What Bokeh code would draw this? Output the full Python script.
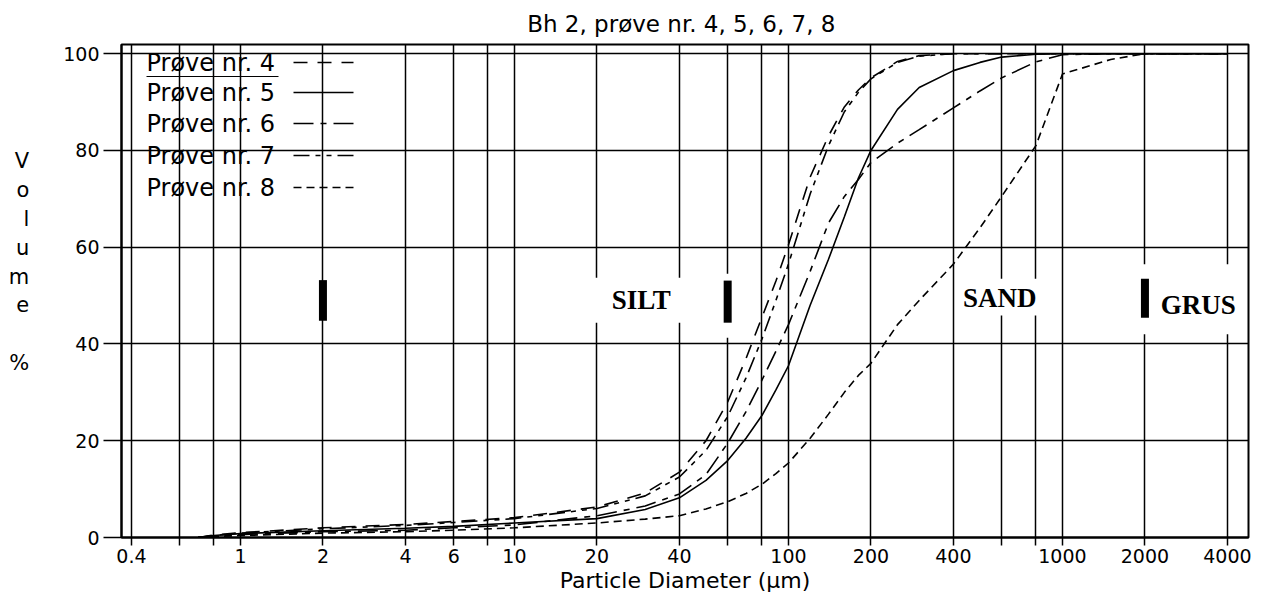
from bokeh.plotting import figure
from bokeh.models import Range1d, FixedTicker, Label, Arrow, BoxAnnotation
from bokeh.embed import file_html
from bokeh.resources import INLINE

# ---------------- data ----------------
sizes = [0.7, 0.8, 1, 2, 4, 6, 10, 20, 30, 40, 50, 60, 70, 80, 90, 100, 120, 140,
         160, 180, 200, 250, 300, 400, 500, 600, 800, 1000, 1500, 2000, 4000]

nr4 = [0, 0.5, 1.0, 2.0, 2.7, 3.3, 4.1, 6.3, 9.2, 13.5, 20, 28, 37, 45.5, 53, 60.5, 74.5, 83,
       89, 92.5, 95, 98.4, 99.6, 100, 100, 100, 100, 100, 100, 100, 100]
nr5 = [0, 0.4, 0.8, 1.4, 1.9, 2.3, 3.0, 3.9, 5.8, 8.2, 11.8, 15.9, 20.5, 25.2, 30.5, 35.5, 48, 57.5,
       66.3, 74.3, 80, 88.5, 93, 96.5, 98.2, 99.3, 99.9, 100, 100, 100, 100]
nr6 = [0, 0.3, 0.6, 1.2, 1.5, 2.0, 2.6, 4.5, 6.5, 9.0, 13, 19.5, 26, 32.5, 38.5, 44, 55, 65,
       70.5, 74, 77.5, 81.5, 84.3, 88.8, 92.3, 95, 98.3, 99.8, 100, 100, 100]
nr7 = [0, 0.4, 0.9, 1.8, 2.5, 3.1, 3.9, 6.0, 8.6, 12.5, 18, 25, 33, 41, 49, 56.5, 71, 81,
       88, 92, 94.8, 98.2, 99.5, 100, 100, 100, 100, 100, 100, 100, 100]
nr8 = [0, 0.2, 0.4, 0.9, 1.2, 1.5, 2.0, 3.0, 3.8, 4.5, 5.9, 7.4, 9.1, 11.0, 13.2, 15.4, 20.5, 25.5,
       30, 33.5, 36, 44, 49, 56.5, 64, 70.5, 81, 95.8, 98.8, 100, 100]

series = [nr4, nr5, nr6, nr7, nr8]
series_names = ["Prøve nr. 4", "Prøve nr. 5", "Prøve nr. 6", "Prøve nr. 7", "Prøve nr. 8"]
series_dash = ["14 10", "solid", "20 7 6 7", "16 6 5 6 5 6", "8 5"]

x_ticks = [0.4, 0.6, 0.8, 1.0, 2.0, 4.0, 6.0, 8.0, 10.0, 20.0, 40.0, 60.0, 80.0, 100.0,
           200.0, 400.0, 600.0, 800.0, 1000.0, 2000.0, 4000.0]
x_tick_labels = ["0.4", "", "", "1", "2", "4", "6", "", "10", "20", "40", "", "", "100",
                 "200", "400", "", "", "1000", "2000", "4000"]
y_ticks = [0, 20, 40, 60, 80, 100]

zone_names = ["SILT", "SAND", "GRUS"]
zone_x = [29, 590, 3130]
zone_y = [49, 49.6, 48]
boundaries = [2, 60, 2000]
bar_low = [44.8, 44.4, 45.4]
bar_high = [53.2, 53.1, 53.5]

title_text = "Bh 2,  prøve nr. 4, 5, 6, 7, 8"
x_label = "Particle Diameter (µm)"
y_label = "V\no\nl\nu\nm\ne\n \n%\n \n "

FONT = "DejaVu Sans"

p = figure(x_axis_type="log", x_range=Range1d(0.368, 4775), y_range=Range1d(0, 101.9),
           frame_width=1127, frame_height=493,
           min_border_left=121, min_border_right=13, min_border_top=44, min_border_bottom=60,
           output_backend="svg", toolbar_location=None,
           background_fill_color="white", border_fill_color="white")

p.outline_line_color = "black"
p.outline_line_width = 2

# title
p.title.text = title_text
p.title.align = "center"
p.title.text_font = FONT
p.title.text_font_size = "23px"
p.title.text_font_style = "normal"
p.title.text_color = "black"
p.title.standoff = 16
p.title.offset = 5

# grid
p.xgrid.ticker = FixedTicker(ticks=x_ticks)
p.ygrid.ticker = FixedTicker(ticks=y_ticks)
for g in (p.xgrid, p.ygrid):
    g.grid_line_color = "black"
    g.grid_line_width = 1.5
    g.grid_line_alpha = 1.0

# white label boxes that interrupt the grid
boxes = [(12, 50, 44.4, 53.7), (55, 66, 41.3, 54.5), (417, 870, 45.9, 53.5), (1800, 4700, 42, 56.5)]
for l, r, b, t in boxes:
    p.add_layout(BoxAnnotation(left=l, right=r, bottom=b, top=t, fill_color="white",
                               fill_alpha=1.0, line_alpha=0, level="underlay"))

# axes
p.xaxis.ticker = FixedTicker(ticks=x_ticks, minor_ticks=[])
p.xaxis.major_label_overrides = dict(zip(x_ticks, x_tick_labels))
p.yaxis.ticker = FixedTicker(ticks=y_ticks, minor_ticks=[])
for ax in (p.xaxis[0], p.yaxis[0]):
    ax.axis_line_color = "black"
    ax.axis_line_width = 2
    ax.major_tick_line_color = "black"
    ax.major_tick_line_width = 1.5
    ax.major_tick_in = 0
    ax.minor_tick_out = 0
    ax.minor_tick_in = 0
    ax.major_label_text_font = FONT
    ax.major_label_text_font_size = "19px"
    ax.major_label_text_color = "black"
p.xaxis.major_tick_out = 8
p.xaxis.major_label_standoff = 3
p.yaxis.major_tick_out = 18
p.yaxis.major_label_standoff = 4
p.xaxis.axis_label = x_label
p.xaxis.axis_label_text_font = FONT
p.xaxis.axis_label_text_font_size = "22px"
p.xaxis.axis_label_text_font_style = "normal"
p.xaxis.axis_label_text_color = "black"
p.xaxis.axis_label_standoff = 2

p.yaxis.axis_label = y_label
p.yaxis.axis_label_orientation = "horizontal"
p.yaxis.axis_label_text_font = FONT
p.yaxis.axis_label_text_font_size = "21px"
p.yaxis.axis_label_text_font_style = "normal"
p.yaxis.axis_label_text_color = "black"
p.yaxis.axis_label_text_align = "center"
p.yaxis.axis_label_standoff = 31

# curves
for vals, dash in zip(series, series_dash):
    p.line(sizes, vals, line_color="black", line_width=1.6, line_dash=dash)

# boundary bars and zone labels
p.segment(x0=boundaries, y0=bar_low, x1=boundaries, y1=bar_high, line_color="black",
          line_width=8, line_cap="butt")
for name, zx, zy in zip(zone_names, zone_x, zone_y):
    p.add_layout(Label(x=zx, y=zy, text=name, text_font="Liberation Serif",
                       text_font_style="bold", text_font_size="27px", text_color="black",
                       text_align="center", text_baseline="middle"))

# manual legend (text left, line sample right)
row_y = [475, 445, 414, 382, 350]
for name, dash, ry in zip(series_names, series_dash, row_y):
    p.add_layout(Label(x=25, y=ry, x_units="screen", y_units="screen", text=name,
                       text_font=FONT, text_font_size="24px", text_color="black",
                       text_align="left", text_baseline="middle"))
    p.add_layout(Arrow(end=None, x_start=172, x_end=232, y_start=ry, y_end=ry,
                       start_units="screen", end_units="screen", line_color="black",
                       line_width=1.6, line_dash=dash))
p.add_layout(Arrow(end=None, x_start=25, x_end=157, y_start=461, y_end=461,
                   start_units="screen", end_units="screen", line_color="black", line_width=1.2))

open("out.html", "w").write(file_html(p, INLINE))
